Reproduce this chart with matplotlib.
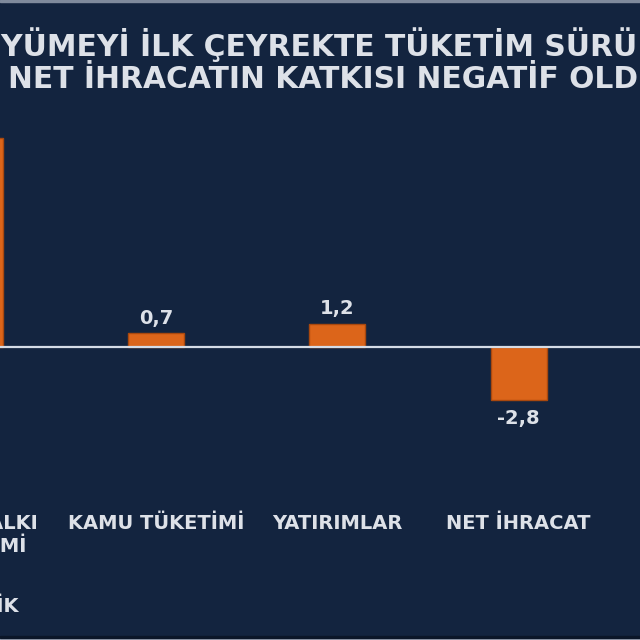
import matplotlib.pyplot as plt
from matplotlib.patches import Rectangle

# Büyümeye katkılar (puan)
categories = ['HANEHALKI\nTÜKETİMİ', 'KAMU TÜKETİMİ', 'YATIRIMLAR', 'NET İHRACAT']
values = [11.0, 0.7, 1.2, -2.8]
value_labels = ['11,0', '0,7', '1,2', '-2,8']
title_lines = ['BÜYÜMEYİ İLK ÇEYREKTE TÜKETİM SÜRÜKLEDİ,',
               'NET İHRACATIN KATKISI NEGATİF OLDU']
source = 'KAYNAK: TÜİK'

BG = '#13243F'
ORANGE = '#DC651A'
TXT = '#DDE1E8'
W, H = 640, 640

fig = plt.figure(figsize=(6.4, 6.4), dpi=100, facecolor=BG)

# axes placed in pixels so the chart runs past the left edge like the crop
unit_x = 181.2
x0 = -25 - 0.5 * unit_x
zero_y = 346.5
unit_y = 19.0
ymin, ymax = -5, 13
ax = fig.add_axes([x0 / W, (H - (zero_y - ymin * unit_y)) / H,
                   4.3 * unit_x / W, (ymax - ymin) * unit_y / H])
ax.set_facecolor(BG)
ax.set_xlim(-0.5, 3.8)
ax.set_ylim(ymin, ymax)

xs = range(len(values))
ax.bar(xs, values, width=0.31, color=ORANGE, edgecolor='#A9480E', linewidth=1.0, zorder=2)
ax.axhline(0, color='#D5DCE6', linewidth=1.6, zorder=3)

for x, v, lab in zip(xs, values, value_labels):
    if v >= 0:
        ax.annotate(lab, (x, v), xytext=(0, 4), textcoords='offset points',
                    ha='center', va='bottom', color=TXT, fontsize=14, fontweight='bold')
    else:
        ax.annotate(lab, (x, v), xytext=(0, -7), textcoords='offset points',
                    ha='center', va='top', color=TXT, fontsize=14, fontweight='bold')

ax.set_xticks(list(xs))
ax.set_xticklabels(categories, color=TXT, fontsize=14, fontweight='bold', linespacing=1.3)
ax.tick_params(axis='x', length=0, pad=52)
ax.set_yticks([])
for s in ax.spines.values():
    s.set_visible(False)

# title, left aligned so the crop matches
fig.text(-46.4 / W, 1 - 56 / H, title_lines[0], ha='left', va='baseline',
         color=TXT, fontsize=21.4, fontweight='bold')
fig.text(8 / W, 1 - 88 / H, title_lines[1], ha='left', va='baseline',
         color=TXT, fontsize=21.4, fontweight='bold')
fig.text(19 / W, 1 - 612 / H, source, ha='right', va='baseline',
         color=TXT, fontsize=14, fontweight='bold')

# thin slide border lines at top and bottom
fig.patches.append(Rectangle((0, 1 - 1.5 / H), 1, 1.5 / H, transform=fig.transFigure,
                             color='#7F8A9C', zorder=5))
fig.patches.append(Rectangle((0, 0), 1, 2.5 / H, transform=fig.transFigure,
                             color='#A7B0C0', zorder=5))
fig.patches.append(Rectangle((0, 2.5 / H), 1, 1.5 / H, transform=fig.transFigure,
                             color='#0B1628', zorder=5))

fig.savefig('out.png', dpi=100, facecolor=BG)
